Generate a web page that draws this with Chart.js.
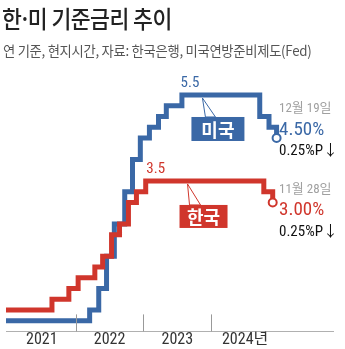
<!DOCTYPE html>
<html>
<head>
<meta charset="utf-8">
<script src="https://cdn.jsdelivr.net/npm/chart.js@4"></script>
<style>
  html, body { margin: 0; padding: 0; background: #fff; }
  body { width: 345px; height: 349px; position: relative; overflow: hidden; }
  #wrap { position: absolute; left: 0; top: 0; width: 345px; height: 349px; }
  .title { position: absolute; left: 2px; top: 0px; font: 500 24px "Noto Sans CJK KR", sans-serif; color: #222; white-space: nowrap; transform: scaleX(0.9); transform-origin: left top; letter-spacing: -0.6px; }
  .title .dot { margin: 0 -3px; }
  .sub { position: absolute; left: 3px; top: 40px; font: 400 14px "Noto Sans CJK KR", sans-serif; color: #555; white-space: nowrap; transform: scaleX(0.95); transform-origin: left top; letter-spacing: -0.3px; }
</style>
</head>
<body>
<div id="wrap"><canvas id="rateChart" width="345" height="349"></canvas></div>
<div class="title">한<span class="dot">·</span>미 기준금리 추이</div>
<div class="sub">연 기준, 현지시간, 자료: 한국은행, 미국연방준비제도(Fed)</div>
<script>
// 금리 변경일과 변경 후 금리 (미국은 상단 기준)
const usDates = ['2020-12-20', '2022-03-17', '2022-05-05', '2022-06-16', '2022-07-28', '2022-09-22', '2022-11-03', '2022-12-15', '2023-02-02', '2023-03-23', '2023-05-04', '2023-07-27', '2024-09-19', '2024-11-08', '2024-12-19'];
const usRates = [0.25, 0.5, 1.0, 1.75, 2.5, 3.25, 4.0, 4.5, 4.75, 5.0, 5.25, 5.5, 5.0, 4.75, 4.5];
const krDates = ['2020-12-20', '2021-08-26', '2021-11-25', '2022-01-14', '2022-04-14', '2022-05-26', '2022-07-13', '2022-08-25', '2022-10-12', '2022-11-24', '2023-01-13', '2024-10-11', '2024-11-28'];
const krRates = [0.5, 0.75, 1.0, 1.25, 1.5, 1.75, 2.25, 2.5, 3.0, 3.25, 3.5, 3.25, 3.0];
const yearTicks = [2022, 2023, 2024];
const yearLabelPos = [2021.5, 2022.5, 2023.5, 2024.5];
const yearLabels = ['2021', '2022', '2023', '2024년'];

const BLUE = '#3a68a6';
const RED = '#d0362c';
const NARROW = '"Liberation Sans Narrow", "Roboto Condensed", "Noto Sans CJK KR", sans-serif';

function toYear(s) {
    const d = Date.parse(s + 'T00:00:00Z');
    const y = new Date(d).getUTCFullYear();
    const a = Date.UTC(y, 0, 1), b = Date.UTC(y + 1, 0, 1);
    return y + (d - a) / (b - a);
}

function points(dates, rates) {
    return dates.map((d, i) => ({ x: toYear(d), y: rates[i] }));
}

function endRadius(ctx) {
    return ctx.dataIndex === ctx.dataset.data.length - 1 ? 4 : 0;
}

function callout(ctx, tipX, tipY, color, text, bx, by, bw, bh, baseL, baseR) {
    // 말풍선 꼬리
    ctx.beginPath();
    ctx.moveTo(tipX, tipY);
    ctx.lineTo(tipX + baseL, tipY + by);
    ctx.lineTo(tipX + baseR, tipY + by);
    ctx.closePath();
    ctx.fillStyle = '#fff';
    ctx.fill();
    ctx.strokeStyle = color;
    ctx.lineWidth = 1;
    ctx.stroke();
    ctx.fillStyle = color;
    ctx.fillRect(tipX + bx, tipY + by, bw, bh);
    ctx.fillStyle = '#fff';
    ctx.font = '700 18px "Noto Sans CJK KR", sans-serif';
    ctx.textAlign = 'center';
    ctx.textBaseline = 'middle';
    ctx.fillText(text, tipX + bx + bw / 2, tipY + by + bh / 2 + 1);
}

const annotations = {
    id: 'annotations',
    afterDraw(chart) {
        const ctx = chart.ctx;
        const x = chart.scales.x, y = chart.scales.y;
        const bottom = chart.chartArea.bottom;
        ctx.save();
        // 연도 구분 눈금
        ctx.strokeStyle = '#999';
        ctx.lineWidth = 1;
        yearTicks.forEach(v => {
            const px = Math.round(x.getPixelForValue(v)) + 0.5;
            ctx.beginPath();
            ctx.moveTo(px, bottom - 17);
            ctx.lineTo(px, bottom);
            ctx.stroke();
        });

        // 최고점 라벨
        ctx.font = '15px ' + NARROW;
        ctx.textAlign = 'center';
        ctx.textBaseline = 'middle';
        ctx.fillStyle = BLUE;
        ctx.fillText('5.5', x.getPixelForValue(toYear(usDates[11])) + 8, y.getPixelForValue(5.5) - 12);
        ctx.fillStyle = RED;
        ctx.fillText('3.5', x.getPixelForValue(toYear(krDates[10])) + 10, y.getPixelForValue(3.5) - 12);

        // 말풍선
        callout(ctx, x.getPixelForValue(2023.87), y.getPixelForValue(5.5) + 3, BLUE, '미국', -11, 19, 53, 24, 3, 13);
        callout(ctx, x.getPixelForValue(2023.65), y.getPixelForValue(3.5) + 3, RED, '한국', -8, 21, 48, 23, 2, 13);

        // 오른쪽 설명
        const nx = x.getPixelForValue(2025.0);
        const usY = y.getPixelForValue(4.5), krY = y.getPixelForValue(3.0);
        ctx.textAlign = 'left';
        ctx.fillStyle = '#a0a0a0';
        ctx.font = '13px ' + NARROW;
        ctx.fillText('12월 19일', nx, usY - 29);
        ctx.fillText('11월 28일', nx, krY - 13);
        ctx.font = '19px ' + NARROW;
        ctx.fillStyle = BLUE;
        ctx.fillText('4.50%', nx, usY - 8);
        ctx.fillStyle = RED;
        ctx.fillText('3.00%', nx, krY + 8);
        ctx.font = '15px ' + NARROW;
        ctx.fillStyle = '#111';
        ctx.fillText('0.25%P↓', nx, usY + 13);
        ctx.fillText('0.25%P↓', nx, krY + 30);
        ctx.restore();
    }
};

document.addEventListener('DOMContentLoaded', function() {
    const ctx = document.getElementById('rateChart').getContext('2d');
    new Chart(ctx, {
        type: 'line',
        data: {
            datasets: [{
                label: '한국',
                data: points(krDates, krRates),
                borderColor: RED,
                borderWidth: 5,
                stepped: true,
                borderJoinStyle: 'miter',
                pointRadius: endRadius,
                pointHoverRadius: endRadius,
                pointBackgroundColor: '#fff',
                pointBorderColor: RED,
                pointBorderWidth: 2
            }, {
                label: '미국',
                data: points(usDates, usRates),
                borderColor: BLUE,
                borderWidth: 5,
                stepped: true,
                borderJoinStyle: 'miter',
                pointRadius: endRadius,
                pointHoverRadius: endRadius,
                pointBackgroundColor: '#fff',
                pointBorderColor: BLUE,
                pointBorderWidth: 2
            }]
        },
        options: {
            responsive: false,
            animation: false,
            layout: { padding: { left: 0, right: 12, top: 52, bottom: 0 } },
            plugins: { legend: { display: false }, tooltip: { enabled: false } },
            scales: {
                x: {
                    type: 'linear',
                    min: 2020.971,
                    max: 2025.797,
                    afterBuildTicks: scale => { scale.ticks = yearLabelPos.map(v => ({ value: v })); },
                    grid: { display: false, drawTicks: false },
                    border: { display: true, color: '#b0b0b0', width: 1 },
                    ticks: {
                        autoSkip: false,
                        maxRotation: 0,
                        padding: 0,
                        color: '#333',
                        font: { family: NARROW, size: 16, lineHeight: 1.1 },
                        callback: (v, i) => yearLabels[i]
                    }
                },
                y: {
                    display: false,
                    min: 0,
                    max: 6.5
                }
            }
        },
        plugins: [annotations]
    });
});
</script>
</body>
</html>
